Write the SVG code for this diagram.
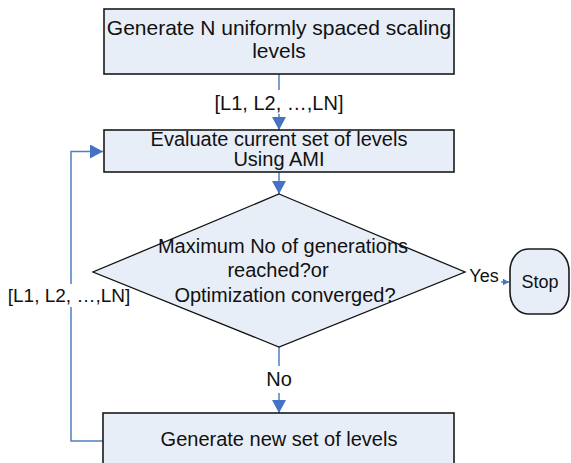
<svg xmlns="http://www.w3.org/2000/svg" width="571" height="463" viewBox="0 0 571 463">
<style>
.node{fill:#E8EEF7;stroke:#1a1a1a;stroke-width:1.6}
.dia{fill:#E8EEF7;stroke:#111;stroke-width:1.3}
.t{font-family:"Liberation Sans",Arial,sans-serif;font-size:20px;fill:#111;text-anchor:middle}
.c{fill:none;stroke:#4F7FC0;stroke-width:1.5}
</style>
<defs>
<marker id="ah" markerUnits="userSpaceOnUse" markerWidth="14" markerHeight="14" viewBox="0 0 14 14" refX="13" refY="7" orient="auto">
<path d="M0,0 L13,7 L0,14 Z" fill="#4472C4"/>
</marker>
<marker id="ahs" markerUnits="userSpaceOnUse" markerWidth="7" markerHeight="7" viewBox="0 0 7 7" refX="6.5" refY="3.5" orient="auto">
<path d="M0,0 L6.5,3.5 L0,7 Z" fill="#4472C4"/>
</marker>
</defs>
<rect width="571" height="463" fill="#fff"/>
<g id="connectors">
<line class="c" x1="279" y1="74" x2="279" y2="90"/>
<line class="c" x1="279" y1="114" x2="279" y2="130" marker-end="url(#ah)"/>
<text class="t" x="279" y="110">[L1, L2, …,LN]</text>
<line class="c" x1="279" y1="172" x2="279" y2="194" marker-end="url(#ah)"/>
<line class="c" x1="279" y1="347" x2="279" y2="366"/>
<line class="c" x1="279" y1="393" x2="279" y2="413" marker-end="url(#ah)"/>
<text class="t" x="279" y="386">No</text>
<polyline class="c" points="103,441 71,441 71,307"/>
<polyline class="c" points="71,284 71,151.5 103,151.5" marker-end="url(#ah)"/>
<text class="t" x="69" y="302" style="font-size:19px">[L1, L2, …,LN]</text>
<line class="c" x1="501" y1="282" x2="509" y2="282" marker-end="url(#ahs)"/>
<text class="t" x="484" y="282" style="font-size:18px">Yes</text>
</g>
<g id="n1">
<rect class="node" x="104" y="9" width="350" height="65"/>
<text class="t" x="279" y="35" style="font-size:21px">Generate N uniformly spaced scaling</text>
<text class="t" x="279" y="58" style="font-size:21px">levels</text>
</g>
<g id="n2">
<rect class="node" x="104" y="130" width="350" height="42"/>
<text class="t" x="279" y="146">Evaluate current set of levels</text>
<text class="t" x="279" y="166">Using AMI</text>
</g>
<g id="n3">
<polygon class="dia" points="279,194 465,272 279,347 93,272"/>
<text class="t" x="283" y="253">Maximum No of generations</text>
<text class="t" x="278" y="277">reached?or</text>
<text class="t" x="285" y="302">Optimization converged?</text>
</g>
<g id="n4">
<rect class="node" x="510" y="249" width="59" height="65" rx="18" ry="22"/>
<text class="t" x="540" y="288" style="font-size:18px">Stop</text>
</g>
<g id="n5">
<rect class="node" x="103" y="413" width="351" height="60"/>
<text class="t" x="279" y="446">Generate new set of levels</text>
</g>
</svg>
